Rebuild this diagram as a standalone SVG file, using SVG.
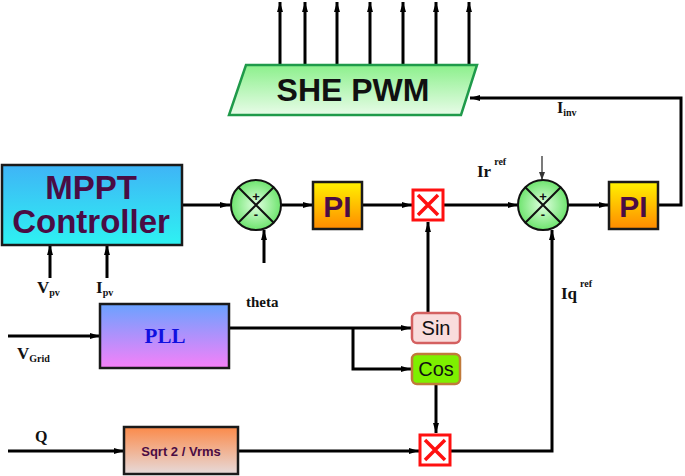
<svg xmlns="http://www.w3.org/2000/svg" width="685" height="476" viewBox="0 0 685 476">
<defs>
<linearGradient id="gMppt" x1="0" y1="0" x2="0" y2="1"><stop offset="0" stop-color="#3fb4f6"/><stop offset="1" stop-color="#2ef2f2"/></linearGradient>
<linearGradient id="gPI" x1="0" y1="0" x2="0" y2="1"><stop offset="0" stop-color="#fff200"/><stop offset="1" stop-color="#ff8a00"/></linearGradient>
<linearGradient id="gPll" x1="0" y1="0" x2="0" y2="1"><stop offset="0" stop-color="#6aa2ff"/><stop offset="1" stop-color="#f680f8"/></linearGradient>
<linearGradient id="gSq" x1="0" y1="0" x2="0" y2="1"><stop offset="0" stop-color="#fb8a4a"/><stop offset="1" stop-color="#e6dada"/></linearGradient>
<linearGradient id="gShe" x1="0" y1="0" x2="0" y2="1"><stop offset="0" stop-color="#8cf08c"/><stop offset="1" stop-color="#e8fce8"/></linearGradient>
<radialGradient id="gSum" cx="0.5" cy="0.5" r="0.5"><stop offset="0" stop-color="#e0ffe0"/><stop offset="1" stop-color="#6ee46e"/></radialGradient>
<marker id="ah" markerWidth="10" markerHeight="6" refX="10" refY="3" orient="auto" markerUnits="userSpaceOnUse"><path d="M0,0 L10,3 L0,6 z" fill="#000"/></marker>
<marker id="ahs" markerWidth="8" markerHeight="6" refX="8" refY="3" orient="auto" markerUnits="userSpaceOnUse"><path d="M0,0 L8,3 L0,6 z" fill="#333"/></marker>
</defs>
<style>
.ln{fill:none;stroke:#000;stroke-width:3}
.bx{stroke:#1a1a1a;stroke-width:2.5}
.big{font-family:"Liberation Sans",Arial,sans-serif;font-weight:bold;fill:#4a0c44;text-anchor:middle}
.lbl{font-family:"Liberation Serif","Times New Roman",serif;font-weight:bold;fill:#111}
.sm{font-size:10px}
.mul rect{fill:#fff;stroke:#ff1010;stroke-width:3}
.mul path{stroke:#ff1010;stroke-width:3.5;fill:none}
.sum circle{fill:url(#gSum);stroke:#111;stroke-width:2}
.sum path{stroke:#111;stroke-width:2;fill:none}
.sum text{font-family:"Liberation Sans",Arial,sans-serif;font-weight:bold;font-size:13px;text-anchor:middle;fill:#111}
</style>

<g id="connectors">
<line class="ln" x1="280" y1="65" x2="280" y2="2" marker-end="url(#ah)"/>
<line class="ln" x1="305" y1="65" x2="305" y2="2" marker-end="url(#ah)"/>
<line class="ln" x1="337" y1="65" x2="337" y2="2" marker-end="url(#ah)"/>
<line class="ln" x1="370" y1="65" x2="370" y2="2" marker-end="url(#ah)"/>
<line class="ln" x1="403" y1="65" x2="403" y2="2" marker-end="url(#ah)"/>
<line class="ln" x1="436" y1="65" x2="436" y2="2" marker-end="url(#ah)"/>
<line class="ln" x1="469" y1="65" x2="469" y2="2" marker-end="url(#ah)"/>
<path class="ln" d="M658,205 H681 V98 H470" marker-end="url(#ah)"/>
<line class="ln" x1="182" y1="205" x2="230" y2="205" marker-end="url(#ah)"/>
<line class="ln" x1="264" y1="263" x2="264" y2="230" marker-end="url(#ah)"/>
<line class="ln" x1="281" y1="205" x2="313" y2="205" marker-end="url(#ah)"/>
<line class="ln" x1="362" y1="205" x2="412" y2="205" marker-end="url(#ah)"/>
<line class="ln" x1="444" y1="205" x2="518" y2="205" marker-end="url(#ah)"/>
<line x1="542" y1="156" x2="542" y2="180" stroke="#333" stroke-width="1.3" marker-end="url(#ahs)"/>
<line class="ln" x1="568" y1="205" x2="609" y2="205" marker-end="url(#ah)"/>
<line class="ln" x1="50" y1="278" x2="50" y2="245" marker-end="url(#ah)"/>
<line class="ln" x1="107" y1="278" x2="107" y2="245" marker-end="url(#ah)"/>
<line class="ln" x1="8" y1="336" x2="100" y2="336" marker-end="url(#ah)"/>
<line class="ln" x1="229" y1="328" x2="411" y2="328" marker-end="url(#ah)"/>
<path class="ln" d="M353,328 V369 H411" marker-end="url(#ah)"/>
<line class="ln" x1="428" y1="314" x2="428" y2="222" marker-end="url(#ah)"/>
<line class="ln" x1="436" y1="384" x2="436" y2="433" marker-end="url(#ah)"/>
<line class="ln" x1="8" y1="451" x2="124" y2="451" marker-end="url(#ah)"/>
<line class="ln" x1="238" y1="451" x2="419" y2="451" marker-end="url(#ah)"/>
<path class="ln" d="M451,451 H552 V230" marker-end="url(#ah)"/>
</g>

<g id="she-pwm">
<polygon points="246,65 477,65 461,115 229,115" fill="url(#gShe)" stroke="#1f9a4a" stroke-width="2.5"/>
<text x="353" y="101" font-family="Liberation Sans,Arial,sans-serif" font-weight="bold" font-size="32" fill="#111" text-anchor="middle">SHE PWM</text>
</g>

<g id="mppt">
<rect class="bx" x="2" y="165" width="180" height="80" fill="url(#gMppt)"/>
<text class="big" x="91" y="199" font-size="33">MPPT</text>
<text class="big" x="91" y="233" font-size="33">Controller</text>
</g>

<g id="sum1" class="sum">
<circle cx="256" cy="205" r="25"/>
<path d="M238.3,187.3 L273.7,222.7 M273.7,187.3 L238.3,222.7"/>
<text x="256" y="201">+</text>
<text x="256" y="219">-</text>
</g>

<g id="pi1">
<rect class="bx" x="313" y="182" width="49" height="47" fill="url(#gPI)"/>
<text class="big" x="337.5" y="217" font-size="30">PI</text>
</g>

<g id="mult1" class="mul">
<rect x="413" y="190" width="30" height="30"/>
<path d="M418,195 L438,215 M438,195 L418,215"/>
</g>

<g id="sum2" class="sum">
<circle cx="543" cy="205" r="25"/>
<path d="M525.3,187.3 L560.7,222.7 M560.7,187.3 L525.3,222.7"/>
<text x="543" y="201">+</text>
<text x="543" y="219">-</text>
</g>

<g id="pi2">
<rect class="bx" x="609" y="182" width="49" height="47" fill="url(#gPI)"/>
<text class="big" x="633.5" y="217" font-size="30">PI</text>
</g>

<g id="pll">
<rect class="bx" x="100" y="304" width="129" height="64" fill="url(#gPll)"/>
<text x="165" y="343" font-family="Liberation Serif,Times New Roman,serif" font-weight="bold" font-size="21" fill="#1010e0" text-anchor="middle">PLL</text>
</g>

<g id="sin">
<rect x="412" y="313" width="48" height="30" rx="5" fill="#f9dcdc" stroke="#d46060" stroke-width="2.5"/>
<text x="436" y="335" font-family="Liberation Sans,Arial,sans-serif" font-size="20" fill="#111" text-anchor="middle">Sin</text>
</g>

<g id="cos">
<rect x="412" y="354" width="48" height="30" rx="5" fill="#7ef000" stroke="#c07a3a" stroke-width="2.5"/>
<text x="436" y="376" font-family="Liberation Sans,Arial,sans-serif" font-size="20" fill="#111" text-anchor="middle">Cos</text>
</g>

<g id="sqrt">
<rect class="bx" x="124" y="427" width="114" height="47" fill="url(#gSq)"/>
<text x="181" y="456" font-family="Liberation Sans,Arial,sans-serif" font-weight="bold" font-size="13" fill="#4a0c44" text-anchor="middle">Sqrt 2 / Vrms</text>
</g>

<g id="mult2" class="mul">
<rect x="420" y="435" width="30" height="30"/>
<path d="M425,440 L445,460 M445,440 L425,460"/>
</g>

<g id="labels">
<text class="lbl" x="557" y="113" font-size="16">I<tspan class="sm" dy="3">inv</tspan></text>
<text class="lbl" x="477" y="177" font-size="17">Ir<tspan class="sm" dx="3" dy="-12">ref</tspan></text>
<text class="lbl" x="561" y="299" font-size="17">Iq<tspan class="sm" dx="3" dy="-12">ref</tspan></text>
<text class="lbl" x="37" y="293" font-size="17">V<tspan class="sm" dy="3">pv</tspan></text>
<text class="lbl" x="96" y="293" font-size="17">I<tspan class="sm" dy="3">pv</tspan></text>
<text class="lbl" x="246" y="307" font-size="15">theta</text>
<text class="lbl" x="17" y="359" font-size="17">V<tspan class="sm" dy="3">Grid</tspan></text>
<text class="lbl" x="35" y="442" font-size="16">Q</text>
</g>
</svg>
